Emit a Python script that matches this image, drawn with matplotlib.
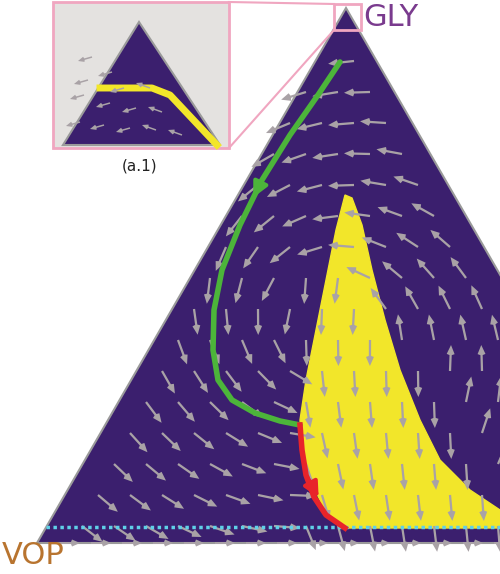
import numpy as np
import matplotlib.pyplot as plt
from matplotlib.patches import Polygon, Rectangle

# geometry in image pixels
apex = (346, 8)
base_y = 543
left_x = 37
right_x = 655

# yellow basin boundary
yellow_x = [345, 336, 326, 316, 306, 300, 302, 310, 325, 345, 500, 500, 470, 440, 420, 400, 385, 372, 362, 352]
yellow_y = [195, 230, 280, 330, 380, 420, 450, 480, 510, 528, 528, 510, 490, 460, 420, 370, 320, 270, 225, 198]

# trajectories
green_x = [340, 318, 290, 262, 240, 222, 214, 213, 218, 232, 255, 280, 300]
green_y = [62, 95, 135, 180, 225, 270, 310, 350, 380, 400, 413, 421, 425]
red_x = [300, 302, 306, 314, 326, 345]
red_y = [425, 450, 475, 497, 515, 528]

# inset
inset_yel_x = [100, 140, 152, 170, 217]
inset_yel_y = [88, 88, 88, 95, 145]

fig = plt.figure(figsize=(5.0, 5.74), dpi=100)
ax = fig.add_axes([0, 0, 1, 1])
ax.set_xlim(0, 500)
ax.set_ylim(574, 0)
ax.axis('off')

tri = Polygon([apex, (left_x, base_y), (right_x, base_y)], closed=True,
              facecolor='#3b1f6e', edgecolor='#9a9a9a', lw=1.5, zorder=1)
ax.add_patch(tri)
yel = ax.fill(yellow_x, yellow_y, color='#f2e62a', zorder=2)[0]
yel.set_clip_path(tri)

# vector field (rotation around basin centre)
gx, gy = np.meshgrid(np.arange(50, 500, 32), np.arange(30, 545, 31))
gx = gx + (gy // 31 % 2) * 16
cx, cy = 330, 330
dx = (gy - cy) * 1.0 + (cx - gx) * 0.3
dy = -(gx - cx) * 1.0 + (cy - gy) * 0.2
inb = (gx > 300) & (gy > 260) & (gx < 300 + (gy - 200) * 0.7)
dx = np.where(inb, dx * 0.15, dx)
dy = np.where(inb, np.abs(dy) + 60, dy)
n = np.hypot(dx, dy) + 1e-9
dx, dy = dx / n * 26, dy / n * 26
t = (gy - apex[1]) / (base_y - apex[1])
inside = (gy > 20) & (gy < base_y - 5) & (gx > apex[0] - t * (apex[0] - left_x) + 8) & (gx < apex[0] + t * (right_x - apex[0]) - 8)
q = ax.quiver(gx[inside], gy[inside], dx[inside], dy[inside], angles='xy', scale_units='xy', scale=1,
              color='#a9a2a6', width=0.0045, headwidth=3.5, headlength=4, zorder=3)
# bottom edge arrows
bx = np.arange(60, 500, 31)
ax.quiver(bx, np.full(bx.shape, 543), np.full(bx.shape, 20), np.zeros(bx.shape), angles='xy',
          scale_units='xy', scale=1, color='#a9a2a6', width=0.004, headwidth=3.5, headlength=4, zorder=3)

ax.plot([46, 500], [527, 527], color='#5fd0e8', lw=2.5, ls=(0, (1, 1)), zorder=4)
ax.plot(green_x, green_y, color='#4cb53a', lw=4, zorder=5, solid_capstyle='round')
ax.annotate('', xy=(252, 200), xytext=(262, 180),
            arrowprops=dict(arrowstyle='-|>', color='#4cb53a', lw=3, mutation_scale=22), zorder=6)
ax.plot(red_x, red_y, color='#e8242a', lw=4, zorder=5)
ax.annotate('', xy=(320, 500), xytext=(306, 475),
            arrowprops=dict(arrowstyle='-|>', color='#e8242a', lw=3, mutation_scale=22), zorder=6)

# zoom box and inset
pink = '#f0a6c0'
ax.add_patch(Rectangle((334, 4), 27, 26, fill=False, ec=pink, lw=2, zorder=7))
ax.add_patch(Rectangle((53, 2), 176, 146, fc='#e4e2e0', ec=pink, lw=2, zorder=7))
ax.plot([229, 334], [2, 4], color=pink, lw=1.5, zorder=7)
ax.plot([229, 334], [148, 30], color=pink, lw=1.5, zorder=7)
itri = Polygon([(139, 22), (63, 145), (220, 145)], closed=True, fc='#3b1f6e', ec='#9a9a9a', lw=1.5, zorder=8)
ax.add_patch(itri)
ax.plot(inset_yel_x, inset_yel_y, color='#f2e62a', lw=5, zorder=9)
ix = np.array([92, 112, 88, 124, 150, 84, 110, 136, 162, 80, 104, 130, 156, 182])
iy = np.array([57, 72, 80, 88, 88, 95, 103, 108, 112, 122, 125, 128, 130, 135])
ax.quiver(ix, iy, np.full(ix.shape, -14), np.where(ix > 140, -5, 4), angles='xy', scale_units='xy',
          scale=1, color='#a9a2a6', width=0.003, headwidth=3.5, headlength=4, zorder=10)
ax.text(140, 166, '(a.1)', fontsize=11, ha='center', va='center', color='#222222')

ax.text(363, 18, 'GLY', fontsize=22, color='#7a3b8e', va='center')
ax.text(2, 556, 'VOP', fontsize=22, color='#b8742f', va='center')

fig.savefig('out.png', dpi=100)
